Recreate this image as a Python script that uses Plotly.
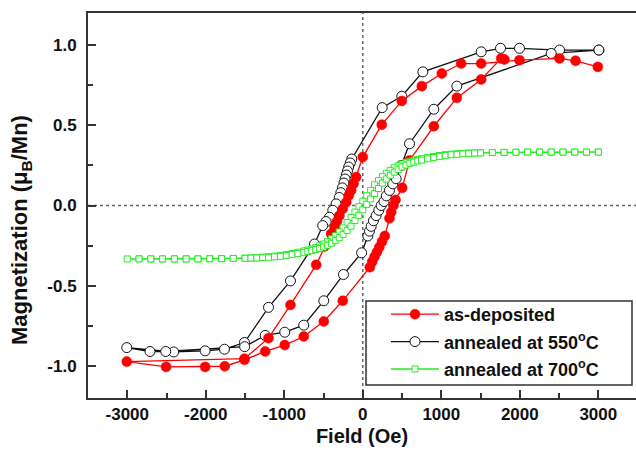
import plotly.graph_objects as go

# ---------------- data ----------------
# as-deposited: descending branch (+3000 -> -3000) then ascending branch
red_desc_field = [2994, 2710, 2506, 1996, 1508, 1253, 1007, 752, 497, 242, 0,
                  -84, -118, -148, -178, -211, -255, -297, -330, -360, -403,
                  -488, -594, -921, -1201, -1507, -3006]
red_desc_m = [0.864, 0.902, 0.917, 0.906, 0.885, 0.885, 0.823, 0.744, 0.652, 0.504, 0.302,
              0.177, 0.136, 0.094, 0.063, 0.020, -0.020, -0.063, -0.100, -0.135, -0.177,
              -0.256, -0.370, -0.620, -0.827, -0.955, -0.973]
red_asc_field = [-2505, -2008, -1758, -1507, -1243, -994, -752, -497, -255,
                 90, 120, 150, 180, 210, 245, 280, 340, 362, 390, 417, 502,
                 595, 905, 1198, 1508, 1763, 1804]
red_asc_m = [-1.006, -1.006, -1.002, -0.962, -0.910, -0.870, -0.817, -0.723, -0.594,
             -0.385, -0.350, -0.320, -0.290, -0.260, -0.225, -0.190, -0.080, -0.042, 0.000, 0.035, 0.110,
             0.281, 0.494, 0.671, 0.786, 0.917, 0.910]

# annealed at 550 C
blk_desc_field = [3007, 2506, 1996, 1754, 1508, 765, 497, 247,
                  -140, -160, -180, -195, -210, -225, -240, -260, -280, -300, -340,
                  -382, -424, -467, -510, -615, -921, -1201, -1507, -1762, -2008, -2408, -3006]
blk_desc_m = [0.969, 0.969, 0.980, 0.980, 0.958, 0.833, 0.681, 0.610,
              0.290, 0.265, 0.240, 0.215, 0.190, 0.165, 0.140, 0.110, 0.080, 0.050, 0.010,
              -0.030, -0.073, -0.100, -0.125, -0.240, -0.470, -0.635, -0.854, -0.896, -0.906, -0.913, -0.886]
blk_asc_field = [-2710, -2510, -1505, -1243, -994, -752, -497, -246, -15,
                 64, 85, 107, 136, 170, 204, 234, 270, 300, 340, 382, 425, 489,
                 595, 905, 1198, 2400, 3007]
blk_asc_m = [-0.910, -0.910, -0.880, -0.810, -0.790, -0.746, -0.594, -0.430, -0.295,
             -0.190, -0.160, -0.130, -0.095, -0.063, -0.030, 0.000, 0.025, 0.060, 0.094, 0.135, 0.167, 0.250,
             0.385, 0.600, 0.744, 0.948, 0.969]

# annealed at 700 C
grn_desc_field = [3000, 2850, 2700, 2550, 2400, 2250, 2100, 1950, 1800, 1650, 1500,
                  1425, 1350, 1275, 1200, 1125, 1050, 975, 900, 825, 750,
                  700, 650, 600, 550, 500, 450, 400, 350, 300, 250, 200, 150, 100, 50, 0,
                  -50, -100, -150, -200, -250, -300, -350, -400, -450, -500, -550, -600, -650, -700,
                  -750, -825, -900, -975, -1050, -1125, -1200, -1275, -1350, -1425,
                  -1500, -1650, -1800, -1950, -2100, -2250, -2400, -2550, -2700, -2850, -3000]
grn_desc_m = [0.333, 0.333, 0.333, 0.333, 0.333, 0.333, 0.333, 0.332, 0.331, 0.330, 0.329,
              0.328, 0.327, 0.325, 0.323, 0.320, 0.317, 0.312, 0.306, 0.300, 0.292,
              0.287, 0.281, 0.274, 0.268, 0.259, 0.248, 0.235, 0.219, 0.201, 0.180, 0.155, 0.129, 0.094, 0.061, 0.027,
              -0.007, -0.041, -0.075, -0.106, -0.140, -0.165, -0.189, -0.208, -0.225, -0.240, -0.252, -0.263, -0.271, -0.277,
              -0.283, -0.291, -0.299, -0.306, -0.311, -0.316, -0.319, -0.322, -0.325, -0.327,
              -0.328, -0.330, -0.331, -0.332, -0.333, -0.333, -0.333, -0.333, -0.333, -0.333, -0.333]
grn_asc_field = [-2850, -2700, -2550, -2400, -2250, -2100, -1950, -1800, -1650, -1500,
                 -1425, -1350, -1275, -1200, -1125, -1050, -975, -900, -825, -750,
                 -700, -650, -600, -550, -500, -450, -400, -350, -300, -250, -200, -150, -100, -50, 0,
                 50, 100, 150, 200, 250, 300, 350, 400, 450, 500, 550, 600, 650, 700,
                 750, 825, 900, 975, 1050, 1125, 1200, 1275, 1350, 1425,
                 1500, 1650, 1800, 1950, 2100, 2250, 2400, 2550, 2700, 2850, 3000]
grn_asc_m = [-0.333, -0.333, -0.333, -0.333, -0.333, -0.333, -0.332, -0.331, -0.330, -0.329,
             -0.328, -0.327, -0.325, -0.323, -0.320, -0.317, -0.312, -0.306, -0.300, -0.292,
             -0.287, -0.281, -0.274, -0.268, -0.259, -0.248, -0.235, -0.219, -0.201, -0.180, -0.155, -0.129, -0.094, -0.061, -0.027,
             0.007, 0.041, 0.075, 0.106, 0.140, 0.165, 0.189, 0.208, 0.225, 0.240, 0.252, 0.263, 0.271, 0.277,
             0.283, 0.291, 0.299, 0.306, 0.311, 0.316, 0.319, 0.322, 0.325, 0.327,
             0.328, 0.330, 0.331, 0.332, 0.333, 0.333, 0.333, 0.333, 0.333, 0.333, 0.333]

series_names = ["as-deposited", "annealed at 550<sup>o</sup>C", "annealed at 700<sup>o</sup>C"]

x_tick_vals = [-3000, -2000, -1000, 0, 1000, 2000, 3000]
x_tick_text = ["-3000", "-2000", "-1000", "0", "1000", "2000", "3000"]
y_tick_vals = [-1.0, -0.5, 0.0, 0.5, 1.0]
y_tick_text = ["-1.0", "-0.5", "0.0", "0.5", "1.0"]

x_title = "Field (Oe)"
y_title = "Magnetization (\u03bc<sub>B</sub>/Mn)"

# ---------------- figure ----------------
FONT = "Arial, Liberation Sans, sans-serif"
PLOT_L, PLOT_T, PLOT_B, PLOT_W, PLOT_H = 88, 13, 398, 548, 385


def px_x(p):
    return (p - PLOT_L) / PLOT_W


def px_y(p):
    return (PLOT_B - p) / PLOT_H


fig = go.Figure()

fig.add_trace(go.Scatter(
    x=blk_desc_field + blk_asc_field, y=blk_desc_m + blk_asc_m,
    mode="lines+markers", name=series_names[1], legendrank=2, legendgroup="b",
    line=dict(color="#111111", width=1.3),
    marker=dict(symbol="circle", size=10, color="white", line=dict(color="#111111", width=1))))

fig.add_trace(go.Scatter(
    x=red_desc_field + red_asc_field, y=red_desc_m + red_asc_m,
    mode="lines+markers", name=series_names[0], legendrank=1, legendgroup="a",
    line=dict(color="#ff0000", width=1.3),
    marker=dict(symbol="circle", size=10, color="#ff0000", line=dict(color="#ff0000", width=0.5))))

fig.add_trace(go.Scatter(
    x=grn_desc_field + grn_asc_field, y=grn_desc_m + grn_asc_m,
    mode="lines+markers", name=series_names[2], legendrank=3, legendgroup="c",
    line=dict(color="#22ee22", width=1.5),
    marker=dict(symbol="square", size=6, color="white", line=dict(color="#22ee22", width=1))))

# dotted zero lines
fig.add_shape(type="line", xref="x", yref="paper", x0=0, x1=0, y0=0, y1=1,
              line=dict(color="#666666", width=1.5, dash="dot"), layer="below")
fig.add_shape(type="line", xref="paper", yref="y", x0=0, x1=1, y0=0, y1=0,
              line=dict(color="#666666", width=1.5, dash="dot"), layer="below")
# legend frame
fig.add_shape(type="rect", xref="paper", yref="paper",
              x0=px_x(366), x1=px_x(632), y0=px_y(385), y1=px_y(301),
              line=dict(color="#333333", width=1.5), fillcolor="white", layer="above")

fig.update_layout(
    width=636, height=452,
    margin=dict(l=PLOT_L, r=0, t=PLOT_T, b=452 - PLOT_B, autoexpand=False),
    paper_bgcolor="white", plot_bgcolor="white",
    font=dict(family=FONT, color="#111111"),
    showlegend=True,
    legend=dict(x=px_x(386), y=px_y(296), xanchor="left", yanchor="top",
                borderwidth=0, bgcolor="rgba(0,0,0,0)",
                font=dict(family=FONT, size=18, weight="bold", color="#111111"),
                itemwidth=48, tracegroupgap=1),
    annotations=[dict(text="<b>" + y_title + "</b>", xref="paper", yref="paper",
                      x=px_x(21), y=px_y(230), xanchor="center", yanchor="middle",
                      textangle=-90, showarrow=False,
                      font=dict(family=FONT, size=22, color="#111111"))],
)

fig.update_xaxes(
    range=[-3500, 3480], showgrid=False, zeroline=False, automargin=False,
    showline=True, linecolor="#333333", linewidth=2, mirror=True,
    ticks="inside", ticklen=8, tickwidth=1.5, tickcolor="#333333",
    tickvals=x_tick_vals, ticktext=x_tick_text,
    tickfont=dict(family=FONT, size=17, weight="bold", color="#111111"),
    minor=dict(tickvals=[-2500, -1500, -500, 500, 1500, 2500], ticks="inside", ticklen=5,
               tickwidth=1.5, tickcolor="#333333"),
    title=dict(text="<b>" + x_title + "</b>", standoff=6,
               font=dict(family=FONT, size=20, color="#111111")),
)
fig.update_yaxes(
    range=[-1.2, 1.2], showgrid=False, zeroline=False, automargin=False,
    showline=True, linecolor="#333333", linewidth=2, mirror=False,
    ticks="inside", ticklen=8, tickwidth=1.5, tickcolor="#333333",
    tickvals=y_tick_vals, ticktext=y_tick_text, ticklabelstandoff=6,
    tickfont=dict(family=FONT, size=17, weight="bold", color="#111111"),
    minor=dict(tickvals=[-0.75, -0.25, 0.25, 0.75], ticks="inside", ticklen=5,
               tickwidth=1.5, tickcolor="#333333"),
)

fig.write_html("out.html", config={"displayModeBar": False},
               post_script="document.body.style.margin='0';")
